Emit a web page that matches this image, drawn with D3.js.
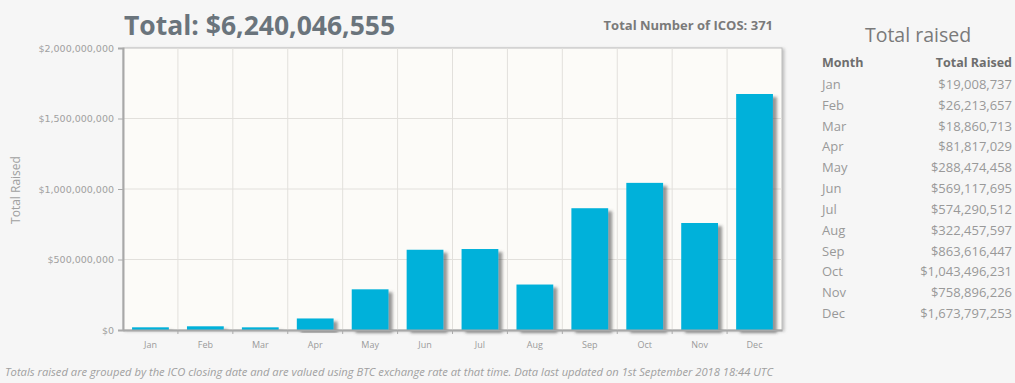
<!DOCTYPE html>
<html>
<head>
<meta charset="utf-8">
<script src="https://cdn.jsdelivr.net/npm/d3@7"></script>
<style>
  body { margin: 0; background: #f6f6f6; font-family: "Open Sans", sans-serif; }
  svg { display: block; }
</style>
</head>
<body>
<div id="chart-area"></div>
<script>
// dados
const months = ["Jan", "Feb", "Mar", "Apr", "May", "Jun", "Jul", "Aug", "Sep", "Oct", "Nov", "Dec"]
const raised = [19008737, 26213657, 18860713, 81817029, 288474458, 569117695,
  574290512, 322457597, 863616447, 1043496231, 758896226, 1673797253]
const yTicks = [0, 500000000, 1000000000, 1500000000, 2000000000]
const totalRaised = 6240046555
const totalIcos = 371

const W = 1015, H = 383
const MARGIN = { LEFT: 123, TOP: 48, RIGHT: 233, BOTTOM: 53 }
const WIDTH = W - MARGIN.LEFT - MARGIN.RIGHT
const HEIGHT = H - MARGIN.TOP - MARGIN.BOTTOM

const svg = d3.select("#chart-area").append("svg")
  .attr("width", W)
  .attr("height", H)

const defs = svg.append("defs")
const shadow = defs.append("filter").attr("id", "barShadow")
  .attr("x", "-10%").attr("y", "-10%").attr("width", "140%").attr("height", "130%")
shadow.append("feDropShadow")
  .attr("dx", 4).attr("dy", 3).attr("stdDeviation", 1.6)
  .attr("flood-color", "#444").attr("flood-opacity", 0.55)
const boxShadow = defs.append("filter").attr("id", "boxShadow")
  .attr("x", "-5%").attr("y", "-5%").attr("width", "110%").attr("height", "110%")
boxShadow.append("feDropShadow")
  .attr("dx", 2).attr("dy", 1).attr("stdDeviation", 1.5)
  .attr("flood-color", "#888").attr("flood-opacity", 0.5)

const g = svg.append("g")
  .attr("transform", `translate(${MARGIN.LEFT}, ${MARGIN.TOP})`)

// escalas
const x = d3.scaleBand().domain(months).range([0, WIDTH]).paddingInner(0.33).paddingOuter(0.165)
const xGrid = d3.scaleBand().domain(months).range([0, WIDTH])
const y = d3.scaleLinear().domain([0, 2000000000]).range([HEIGHT, 0])

// fundo da área do gráfico
g.append("rect")
  .attr("width", WIDTH).attr("height", HEIGHT)
  .attr("fill", "#fcfbf8")
  .attr("stroke", "#bdbdbd")
  .attr("filter", "url(#boxShadow)")

// grade
g.append("g").selectAll("line.v")
  .data(months.slice(1))
  .join("line")
  .attr("x1", d => xGrid(d)).attr("x2", d => xGrid(d))
  .attr("y1", 0).attr("y2", HEIGHT)
  .attr("stroke", "#e2e0dc")
g.append("g").selectAll("line.h")
  .data(yTicks.slice(1, -1))
  .join("line")
  .attr("x1", 0).attr("x2", WIDTH)
  .attr("y1", d => y(d)).attr("y2", d => y(d))
  .attr("stroke", "#e2e0dc")

// barras
g.append("g").selectAll("rect")
  .data(months)
  .join("rect")
  .attr("x", d => x(d))
  .attr("width", x.bandwidth())
  .attr("y", (d, i) => y(raised[i]))
  .attr("height", (d, i) => HEIGHT - y(raised[i]))
  .attr("fill", "#03b1da")
  .attr("filter", "url(#barShadow)")

// eixos
const yAxis = g.append("g")
  .call(d3.axisLeft(y).tickValues(yTicks).tickSize(5).tickPadding(4)
    .tickFormat(d => "$" + d3.format(",")(d)))
yAxis.select(".domain").attr("stroke", "#a8a8a8").attr("stroke-width", 2)
yAxis.selectAll(".tick line").attr("stroke", "#aaa")
yAxis.selectAll("text").attr("fill", "#a0a0a0")
  .style("font-family", "DejaVu Sans").style("font-size", "9.5px")

const xAxis = g.append("g")
  .attr("transform", `translate(0, ${HEIGHT})`)
  .call(d3.axisBottom(xGrid).tickSize(0).tickPadding(12))
xAxis.select(".domain").attr("stroke", "#a8a8a8").attr("stroke-width", 2)
xAxis.selectAll("text").attr("fill", "#9a9a9a")
  .style("font-family", "Open Sans").style("font-size", "9px")
g.append("g").selectAll("line")
  .data(months.slice(1))
  .join("line")
  .attr("x1", d => xGrid(d)).attr("x2", d => xGrid(d))
  .attr("y1", HEIGHT).attr("y2", HEIGHT + 4)
  .attr("stroke", "#aaa")

// rótulo do eixo y
svg.append("text")
  .attr("transform", "rotate(-90)")
  .attr("x", -190).attr("y", 20)
  .attr("text-anchor", "middle")
  .attr("fill", "#a0a0a0")
  .style("font-size", "12px")
  .text("Total Raised")

// títulos
svg.append("text")
  .attr("x", 124).attr("y", 35)
  .attr("fill", "#6a747c")
  .style("font-size", "26.5px").style("font-weight", "bold")
  .text("Total: $" + d3.format(",")(totalRaised))
svg.append("text")
  .attr("x", 773).attr("y", 30)
  .attr("text-anchor", "end")
  .attr("fill", "#7a7a7a")
  .style("font-size", "13px").style("font-weight", "bold")
  .text("Total Number of ICOS: " + totalIcos)

// nota de rodapé
svg.append("text")
  .attr("x", 5).attr("y", 376)
  .attr("fill", "#a0a0a0")
  .style("font-size", "11px").style("font-style", "italic")
  .attr("textLength", 768).attr("lengthAdjust", "spacingAndGlyphs")
  .text("Totals raised are grouped by the ICO closing date and are valued using BTC exchange rate at that time. Data last updated on 1st September 2018 18:44 UTC")

// tabela
const table = svg.append("g")
table.append("text")
  .attr("x", 918).attr("y", 42)
  .attr("text-anchor", "middle")
  .attr("fill", "#7a7a7a")
  .style("font-size", "19.5px")
  .text("Total raised")
table.append("text")
  .attr("x", 822).attr("y", 67)
  .attr("fill", "#6e6e6e")
  .style("font-size", "12.5px").style("font-weight", "bold")
  .text("Month")
table.append("text")
  .attr("x", 1012).attr("y", 67)
  .attr("text-anchor", "end")
  .attr("fill", "#6e6e6e")
  .style("font-size", "12.5px").style("font-weight", "bold")
  .text("Total Raised")

const rowY = d3.scalePoint().domain(months).range([89, 318])
table.append("g").selectAll("text")
  .data(months)
  .join("text")
  .attr("x", 822).attr("y", d => rowY(d))
  .attr("fill", "#999")
  .style("font-size", "13px")
  .text(d => d)
table.append("g").selectAll("text")
  .data(months)
  .join("text")
  .attr("x", 1012).attr("y", d => rowY(d))
  .attr("text-anchor", "end")
  .attr("fill", "#999")
  .style("font-size", "13px")
  .text((d, i) => "$" + d3.format(",")(raised[i]))
</script>
</body>
</html>
